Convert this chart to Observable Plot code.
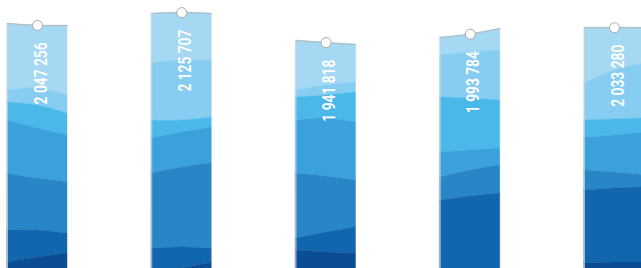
<!DOCTYPE html>
<html>
<head>
<meta charset="utf-8">
<script src="https://cdn.jsdelivr.net/npm/d3@7"></script>
<script src="https://cdn.jsdelivr.net/npm/@observablehq/plot@0.6"></script>
<style>
  html, body { margin: 0; padding: 0; background: #fff; overflow: hidden; }
  #chart svg { display: block; }
</style>
</head>
<body>
<div id="chart"></div>
<script>
const values = [2047256, 2125707, 1941818, 1993784, 2033280];

// Colours of the wave bands, top (lightest) to bottom (darkest)
const bandColors = ["#a5d8f2", "#87cdf1", "#4ab9ea", "#3aa1db", "#2886c6", "#1266ae", "#0a4d93"];

// Top edge of each bar: [left, right] (centre = value)
const topEdges = [
  [2059000, 2047000],
  [2120000, 2120000],
  [1955000, 1930000],
  [1973000, 2028000],
  [2034000, 2034000]
];

// Wave boundaries inside each bar, [left, middle, right], top to bottom
const wavesBar1 = [
  [1648000, 1661000, 1618000],
  [1575000, 1557000, 1507000],
  [1465000, 1416000, 1373000],
  [1140000, 1109000, 1085000],
  [791000, 791000, 772000],
  [594000, 625000, 650000]
];
const wavesBar2 = [
  [1814000, 1832000, 1832000],
  [1465000, 1465000, 1483000],
  [1354000, 1391000, 1422000],
  [1140000, 1177000, 1201000],
  [680000, 686000, 680000],
  [545000, 558000, 594000]
];
const wavesBar3 = [
  [1648000, 1679000, 1697000],
  [1606000, 1618000, 1636000],
  [1465000, 1477000, 1452000],
  [1140000, 1121000, 1097000],
  [741000, 778000, 809000],
  [668000, 656000, 650000]
];
const wavesBar4 = [
  [1863000, 1881000, 1894000],
  [1606000, 1599000, 1587000],
  [1268000, 1281000, 1293000],
  [1115000, 1158000, 1189000],
  [974000, 999000, 1017000],
  [500000, 500000, 500000]
];
const wavesBar5 = [
  [1691000, 1771000, 1814000],
  [1465000, 1471000, 1477000],
  [1360000, 1373000, 1391000],
  [1158000, 1146000, 1128000],
  [1036000, 1048000, 1054000],
  [588000, 594000, 594000]
];

const waves = [wavesBar1, wavesBar2, wavesBar3, wavesBar4, wavesBar5];
const W = 0.416; // bar width in index units

const fmt = v => d3.format(",")(v).replace(/,/g, " ");

// Build band areas
const rows = [];
const topRows = [];
values.forEach((v, i) => {
  const top = [topEdges[i][0], v, topEdges[i][1]];
  const bounds = [top, ...waves[i], [0, 0, 0]];
  for (let k = 0; k < bandColors.length; k++) {
    for (let j = 0; j < 3; j++) {
      rows.push({key: i + "-" + k, band: k, x: i + j * W / 2, hi: bounds[k][j], lo: bounds[k + 1][j]});
    }
  }
  for (let j = 0; j < 3; j++) topRows.push({bar: i, x: i + j * W / 2, y: top[j]});
});

const labels = values.map((v, i) => ({x: i + W / 2, y: v, text: fmt(v)}));
const edges = values.map((v, i) => ({x: i, y: topEdges[i][0]}));

const chart = Plot.plot({
  width: 641,
  height: 268,
  margin: 0,
  style: {background: "#fff"},
  x: {domain: [0, 4], range: [7, 584], axis: null},
  y: {domain: [0, 2200000], range: [359, 0], axis: null},
  color: {type: "ordinal", domain: d3.range(bandColors.length), range: bandColors},
  marks: [
    Plot.areaY(rows, {x: "x", y1: "lo", y2: "hi", z: "key", fill: "band", stroke: "band", strokeWidth: 0.4, curve: "natural", clip: true}),
    Plot.ruleX(edges, {x: "x", y1: 0, y2: "y", stroke: "#cfcfcf", strokeWidth: 0.8, clip: true}),
    Plot.line(topRows, {x: "x", y: "y", z: "bar", curve: "natural", stroke: "#b8b8b8", strokeWidth: 1, clip: true}),
    Plot.dot(labels, {x: "x", y: "y", r: 5, fill: "#fff", stroke: "#a9a9a9", strokeWidth: 1}),
    Plot.text(labels, {x: "x", y: "y", text: "text", rotate: -90, textAnchor: "end", dy: 17, dx: 3,
      fill: "#fff", fontSize: 19, fontWeight: 600, fontFamily: "'Liberation Sans Narrow', Roboto, sans-serif"})
  ]
});

document.getElementById("chart").appendChild(chart);

// Condense the value labels to the narrow look of the original
chart.querySelectorAll("g[aria-label='text'] text").forEach(t => {
  t.setAttribute("textLength", "62");
  t.setAttribute("lengthAdjust", "spacingAndGlyphs");
});
</script>
</body>
</html>
